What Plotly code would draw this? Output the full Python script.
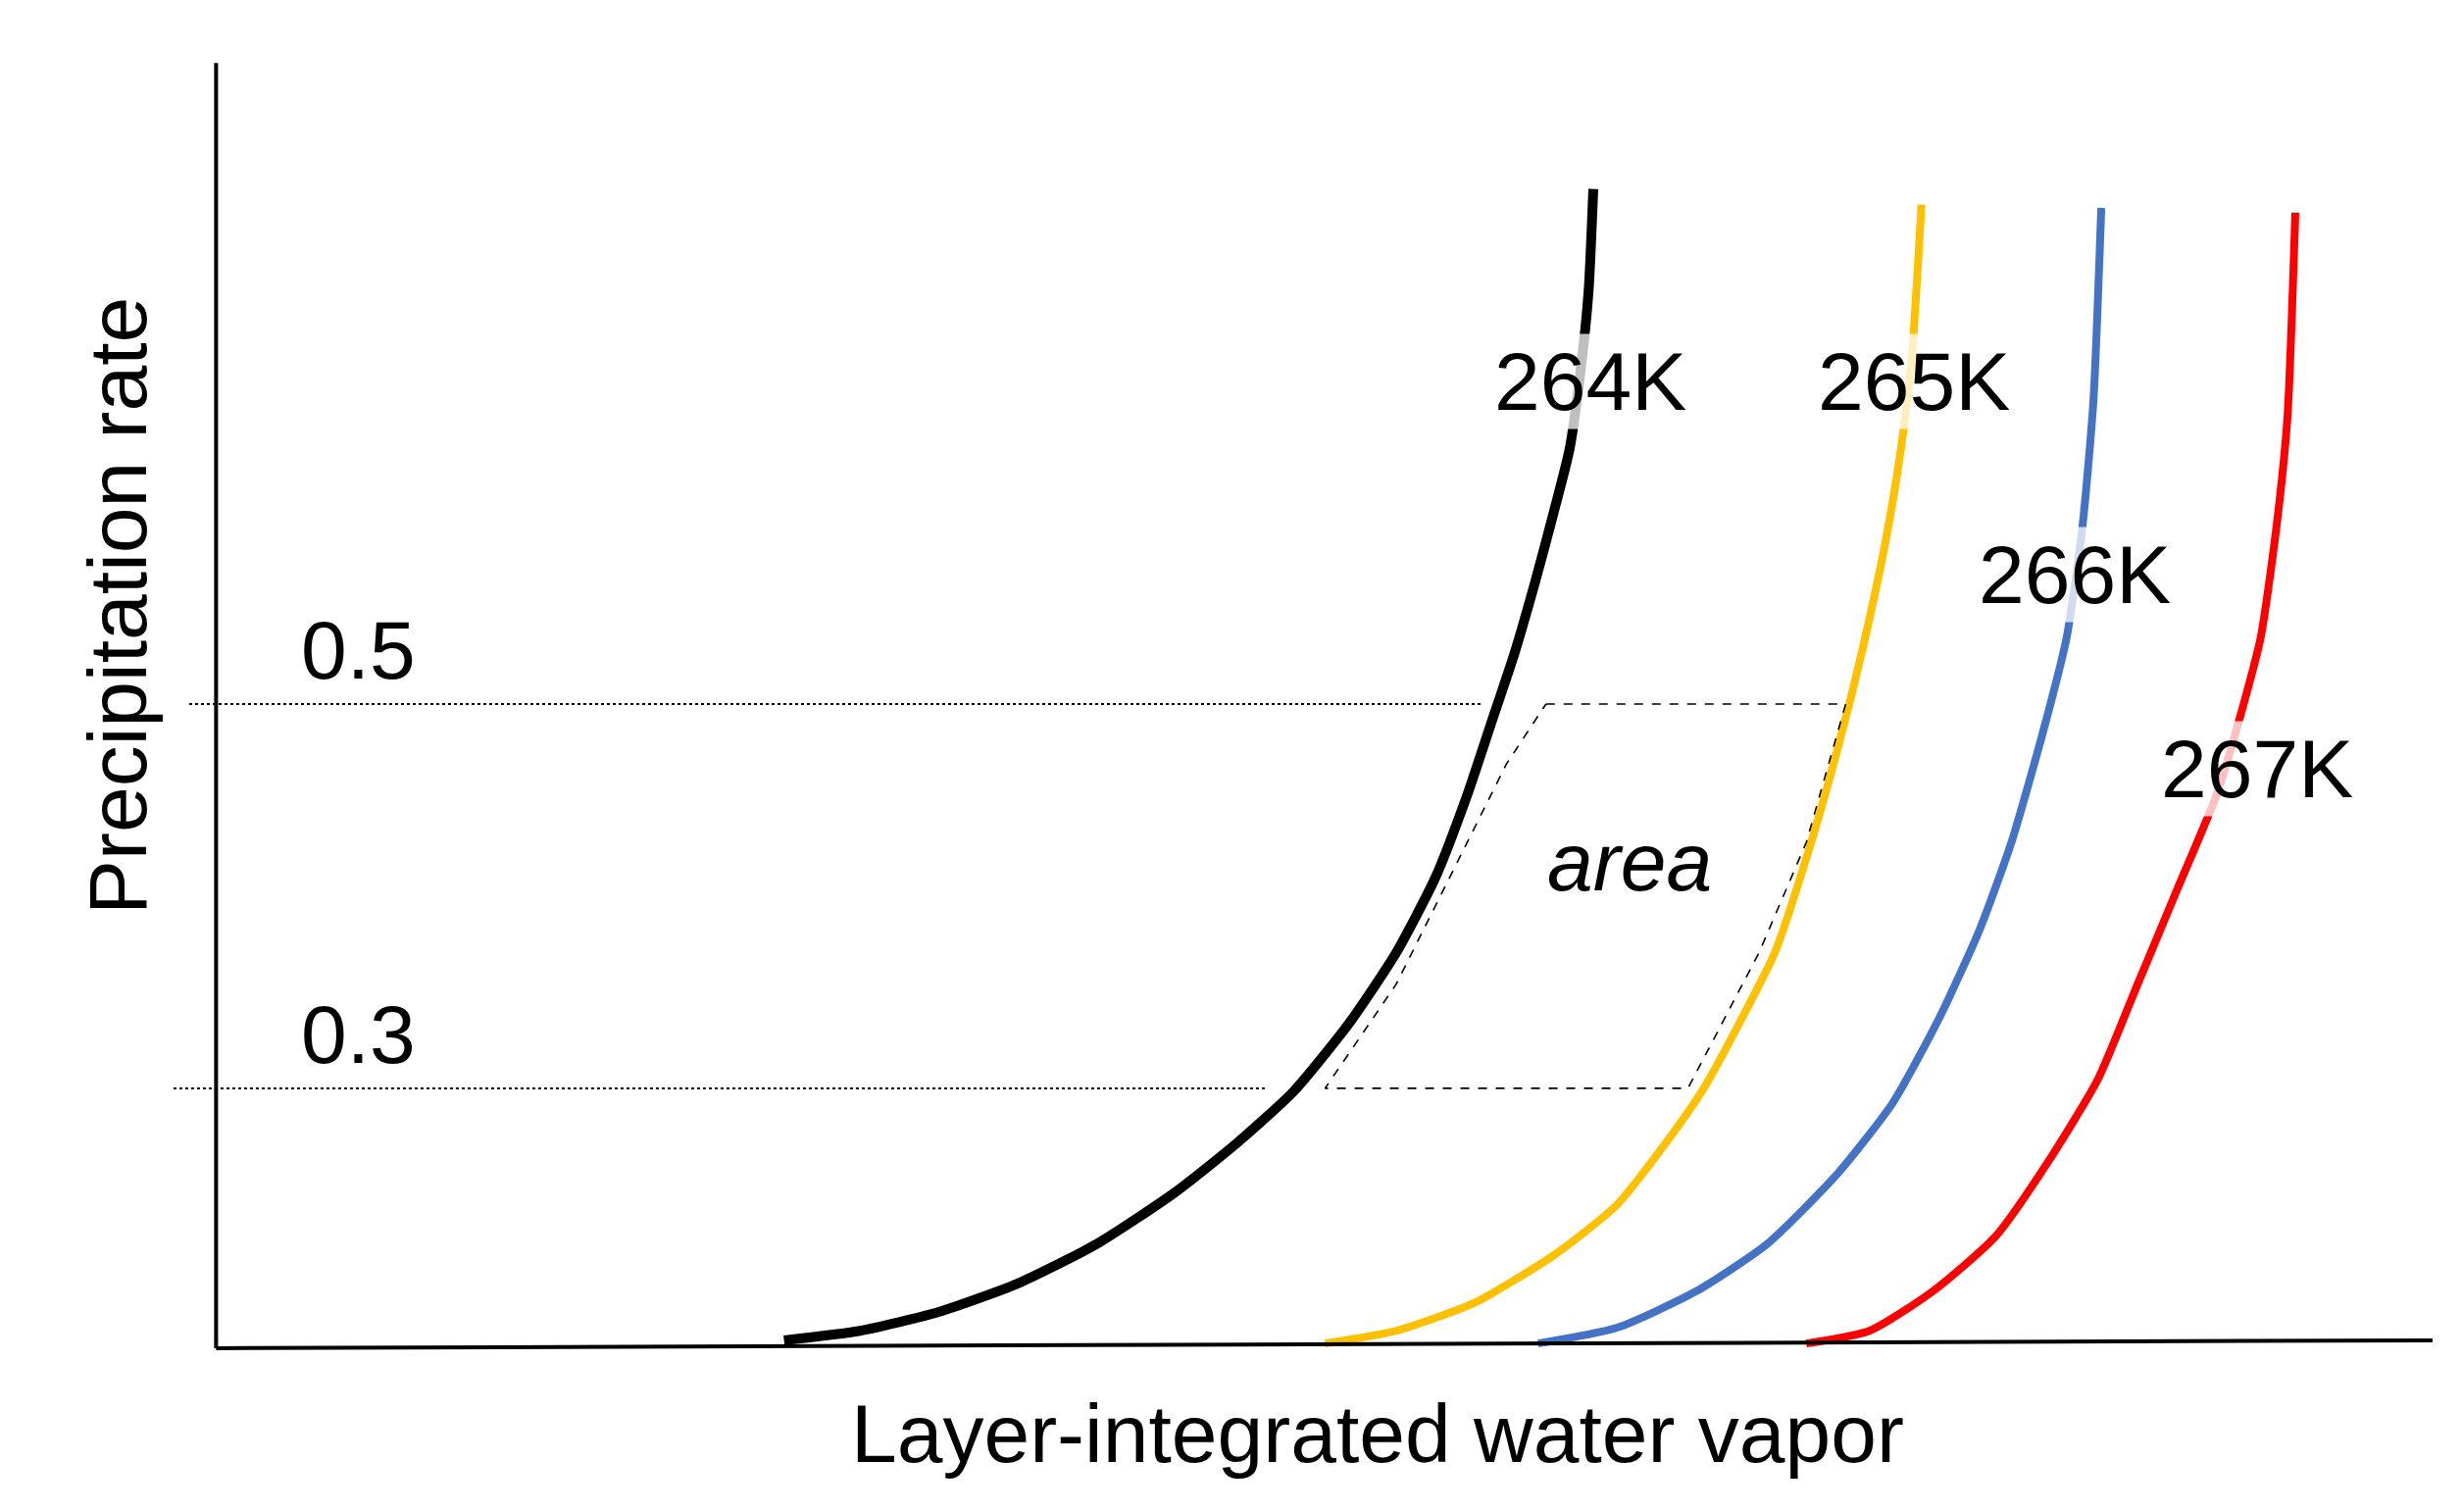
import plotly.graph_objects as go

# Curves (water vapor, precipitation) in diagram units
x264 = [492, 540, 590, 640, 690, 740, 780, 815, 850, 880, 905, 925, 940, 955, 968, 980, 990, 997, 1002, 1005]
y264 = [846, 840, 828, 810, 785, 752, 720, 688, 645, 600, 552, 500, 455, 410, 365, 320, 280, 230, 180, 115]
x265 = [835, 880, 930, 980, 1020, 1050, 1075, 1100, 1120, 1140, 1160, 1175, 1190, 1200, 1207, 1213]
y265 = [848, 840, 822, 792, 760, 722, 686, 640, 600, 540, 470, 410, 340, 280, 220, 125]
x266 = [970, 1020, 1070, 1115, 1160, 1195, 1225, 1250, 1270, 1290, 1305, 1315, 1322, 1327]
y266 = [848, 838, 815, 785, 740, 695, 640, 585, 530, 460, 400, 330, 250, 127]
x267 = [1140, 1180, 1220, 1260, 1295, 1325, 1350, 1375, 1400, 1415, 1428, 1438, 1445, 1450]
y267 = [848, 840, 815, 780, 730, 680, 620, 560, 500, 450, 400, 330, 260, 130]
labels = ["264K", "265K", "266K", "267K"]
label_x = [1003, 1208, 1310, 1426]
label_y = [237, 237, 360, 483]
colors = ["#000000", "#FFC000", "#4472C4", "#FF0000"]
widths = [10, 8, 8, 8]

levels = [0.5, 0.3]
level_y = [442, 686]

# area outline
area_x = [975, 1165, 1140, 1110, 1065, 835, 880, 920, 950, 975]
area_y = [442, 442, 530, 600, 686, 686, 620, 540, 480, 442]

fig = go.Figure()
for xs, ys, c, w in zip([x264, x265, x266, x267], [y264, y265, y266, y267], colors, widths):
    fig.add_trace(go.Scatter(x=xs, y=ys, mode="lines", line=dict(color=c, width=w, shape="spline", smoothing=0.6),
                             hoverinfo="skip", showlegend=False))

dash = dict(color="black", width=2, dash="dot")
fig.add_trace(go.Scatter(x=[115, 935], y=[level_y[0]] * 2, mode="lines", line=dash, showlegend=False))
fig.add_trace(go.Scatter(x=[105, 797], y=[level_y[1]] * 2, mode="lines", line=dash, showlegend=False))
fig.add_trace(go.Scatter(x=area_x, y=area_y, mode="lines",
                         line=dict(color="black", width=1.6, dash="dash"), showlegend=False))

# axes lines
fig.add_shape(type="line", x0=132, y0=35, x1=132, y1=851, line=dict(color="black", width=4))
fig.add_shape(type="line", x0=132, y0=851, x1=1537, y1=846, line=dict(color="black", width=4))

font = dict(family="Liberation Sans, Arial", size=84, color="black")
for t, lx, ly in zip(labels, label_x, label_y):
    fig.add_annotation(x=lx, y=ly, text=t, showarrow=False, font=font,
                       bgcolor="rgba(255,255,255,0.75)")
for v, ly in zip(levels, level_y):
    fig.add_annotation(x=222, y=ly - 34, text=str(v), showarrow=False, font=font)
fig.add_annotation(x=1028, y=542, text="<i>area</i>", showarrow=False, font=font)
fig.add_annotation(x=868, y=905, text="Layer-integrated water vapor", showarrow=False, font=font)
fig.add_annotation(x=70, y=380, text="Precipitation rate", showarrow=False, font=font, textangle=-90)

fig.update_layout(width=2510, height=1542, margin=dict(l=0, r=0, t=0, b=0),
                  plot_bgcolor="white", paper_bgcolor="white",
                  xaxis=dict(range=[0, 1560], visible=False),
                  yaxis=dict(range=[960, 0], visible=False))
fig.write_html("out.html")
